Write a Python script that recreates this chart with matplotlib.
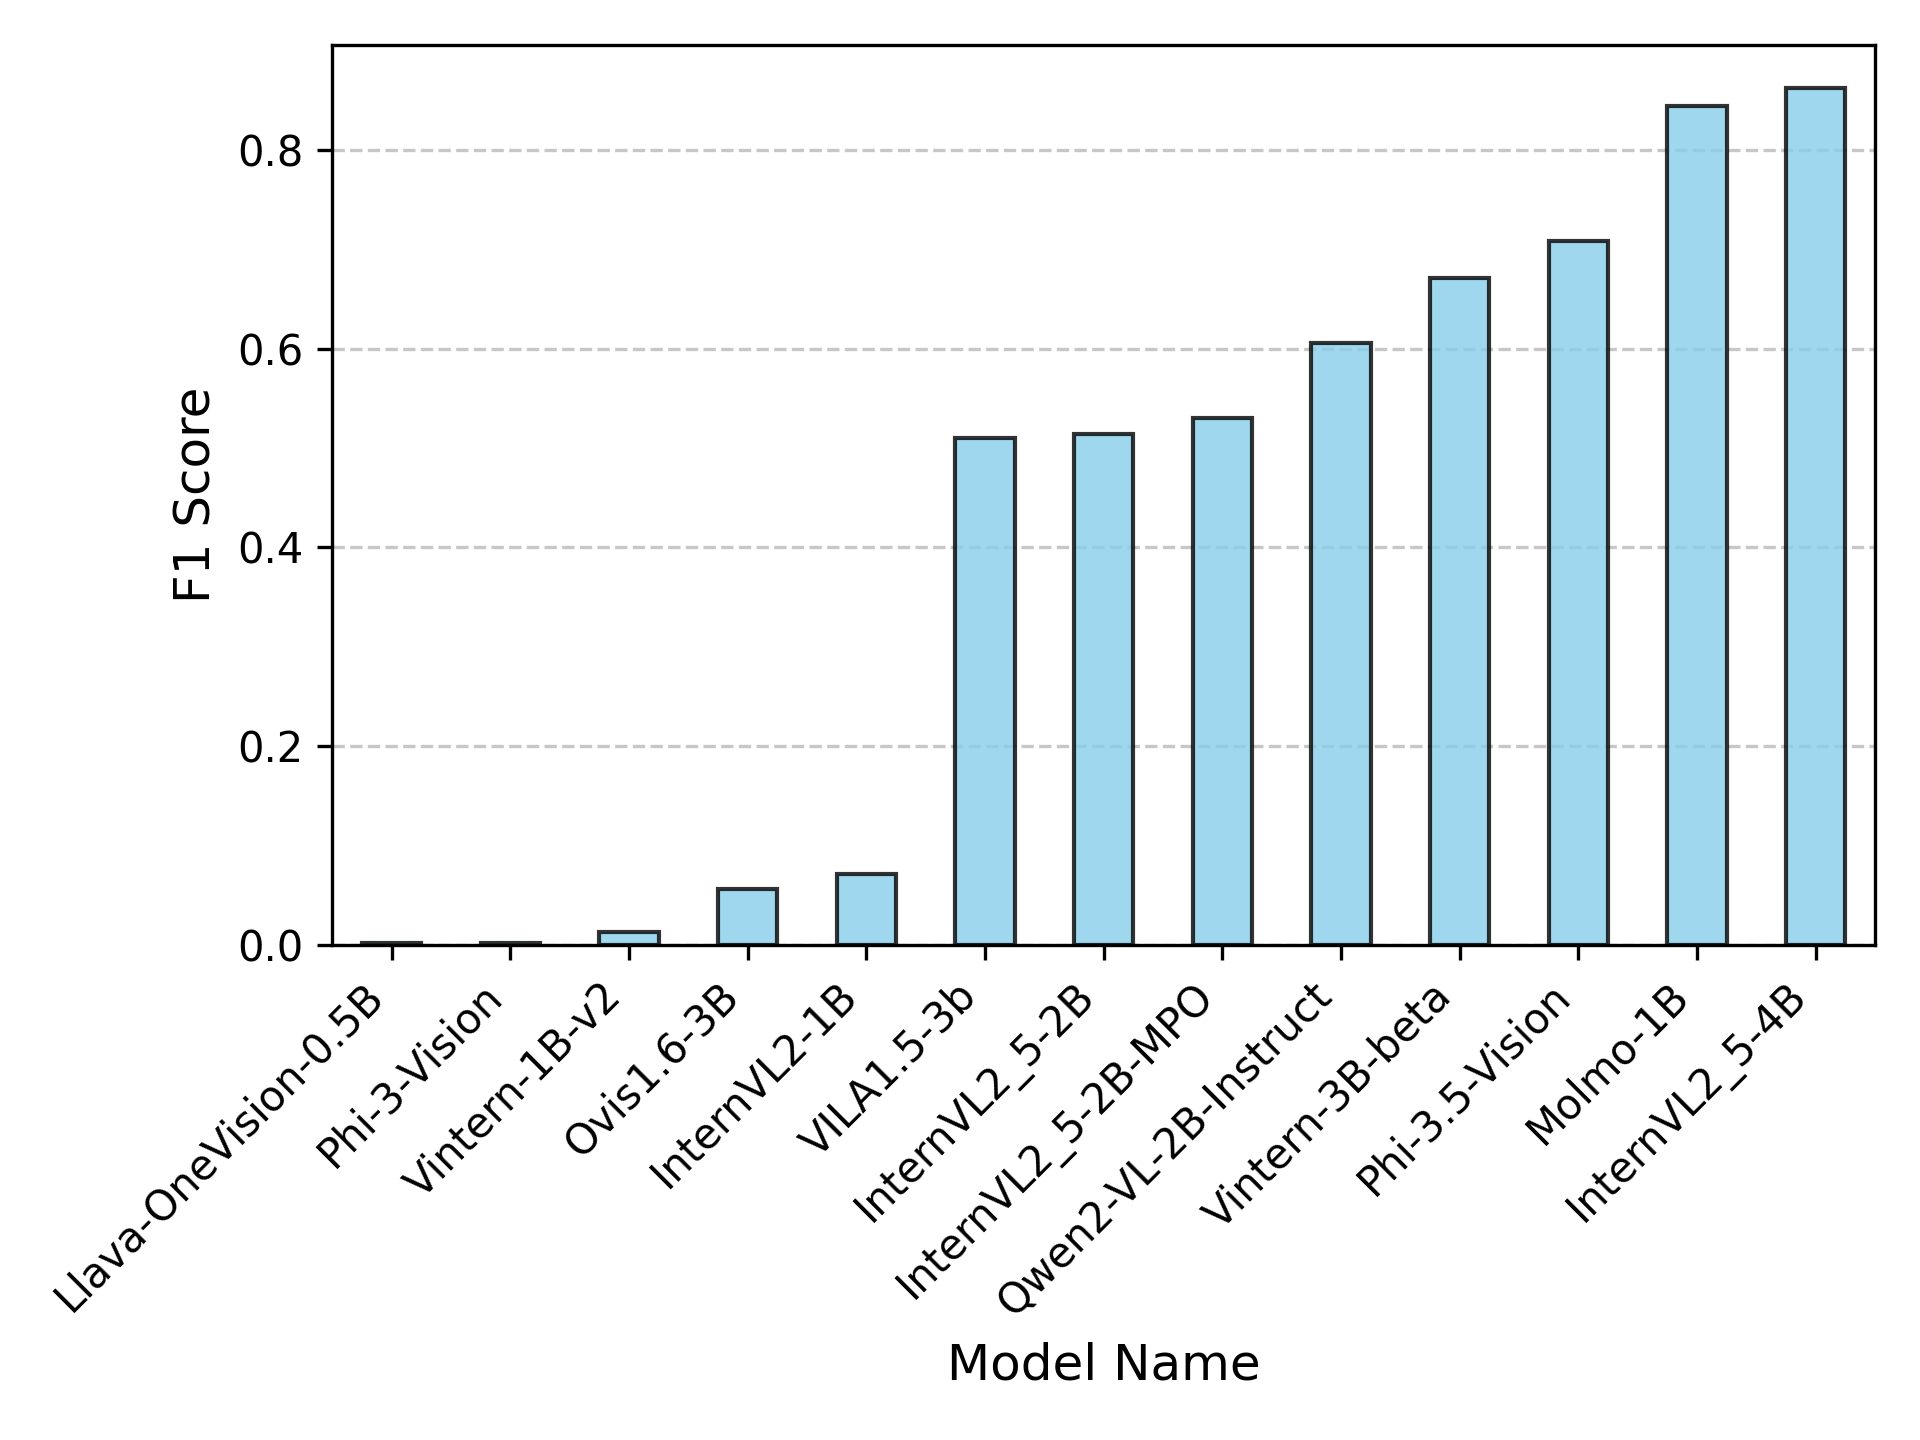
import matplotlib
matplotlib.use("Agg")
import matplotlib.pyplot as plt
import numpy as np

models = ["Llava-OneVision-0.5B", "Phi-3-Vision", "Vintern-1B-v2", "Ovis1.6-3B",
          "InternVL2-1B", "VILA1.5-3b", "InternVL2_5-2B", "InternVL2_5-2B-MPO",
          "Qwen2-VL-2B-Instruct", "Vintern-3B-beta", "Phi-3.5-Vision", "Molmo-1B",
          "InternVL2_5-4B"]
f1 = [0.002, 0.002, 0.0135, 0.0565, 0.0715, 0.510, 0.5145, 0.5305,
      0.606, 0.671, 0.7085, 0.844, 0.862]

fig, ax = plt.subplots(figsize=(6.4, 4.8), dpi=300)
x = np.arange(len(models))
ax.bar(x, f1, width=0.5, color="skyblue", edgecolor="black", alpha=0.8, zorder=2)
ax.set_xticks(x)
ax.set_xticklabels(models, rotation=45, ha="right")
ax.set_xlim(-0.5, len(models) - 0.5)
ax.set_xlabel("Model Name", fontsize=12)
ax.set_ylabel("F1 Score", fontsize=12)
ax.grid(axis="y", linestyle="--", alpha=0.7, zorder=0)
ax.set_axisbelow(True)
fig.tight_layout()
fig.subplots_adjust(bottom=0.3435)
fig.savefig("out.png", dpi=300)
